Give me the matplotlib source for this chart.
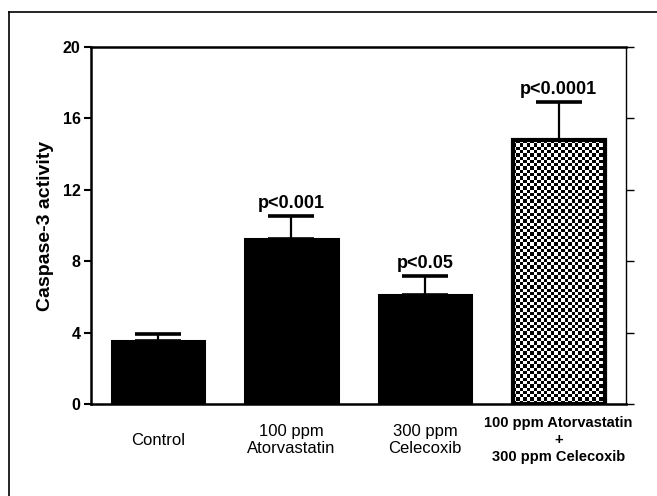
import numpy as np
import matplotlib
matplotlib.use("Agg")
import matplotlib.pyplot as plt
from matplotlib.lines import Line2D

plt.rcParams['font.family'] = ['Liberation Sans', 'DejaVu Sans']

categories = ["Control", "100 ppm\nAtorvastatin", "300 ppm\nCelecoxib",
              "100 ppm Atorvastatin\n+\n300 ppm Celecoxib"]
means = [3.55, 9.25, 6.12, 14.78]
errors = [0.35, 1.30, 1.06, 2.14]
pvals = ["", "p<0.001", "p<0.05", "p<0.0001"]
yticks = [0, 4, 8, 12, 16, 20]

fig = plt.figure(figsize=(6.57, 4.96), dpi=100)
ax = fig.add_axes([91/657, 1-404/496, (625.5-91)/657, (404-47)/496])

x = np.arange(len(categories))
width = 0.69
colors = ['black', 'black', 'black', 'white']
bars = ax.bar(x, means, width=width, color=colors, edgecolor='black', linewidth=2.2, zorder=2)

# checkerboard fill for the combination bar
b = bars[3]
x0, w, h = b.get_x(), b.get_width(), b.get_height()
nx = 27
ny = int(round(h / 0.185))
ii, jj = np.indices((ny, nx))
checker = ((ii + jj) % 2).astype(float)
im = ax.imshow(checker, cmap='gray', extent=(x0, x0 + w, 0, h), aspect='auto',
               interpolation='nearest', zorder=2.5, origin='lower')
im.set_clip_path(b)
ax.bar([x[3]], [means[3]], width=width, facecolor='none', edgecolor='black', linewidth=3.0, zorder=3)

ax.errorbar(x, means, yerr=[np.zeros(len(means)), errors], fmt='none', ecolor='black',
            elinewidth=1.6, capsize=16.5, capthick=2.6, zorder=1)

for xi, m, e, p in zip(x, means, errors, pvals):
    if p:
        ax.annotate(p, (xi, m + e), xytext=(0, 5.5), textcoords='offset points',
                    ha='center', va='baseline', fontsize=13, fontweight='bold')

ax.set_xlim(-0.5, 3.5)
ax.set_ylim(0, 20)
ax.set_yticks(yticks)
ax.set_yticklabels([str(t) for t in yticks], fontsize=11.5, fontweight='bold')
ax.tick_params(axis='y', which='both', direction='out', length=5, width=1.5, pad=2.5,
               right=True, labelright=False)
for t in ax.yaxis.get_major_ticks():
    t.tick2line.set_markeredgewidth(1.0)
    t.tick2line.set_markersize(6)

ax.set_xticks(x)
ax.set_xticklabels(categories)
ax.tick_params(axis='x', length=0, pad=26)
for i, lab in enumerate(ax.get_xticklabels()):
    lab.set_verticalalignment('center')
    if i == 3:
        lab.set_fontsize(10.5)
        lab.set_fontweight('bold')
        lab.set_linespacing(1.25)
    else:
        lab.set_fontsize(12)
        lab.set_linespacing(1.15)

ax.set_ylabel("Caspase-3 activity", fontsize=14, fontweight='bold', labelpad=6)

for s in ['left', 'bottom', 'top']:
    ax.spines[s].set_linewidth(1.8)
ax.spines['right'].set_linewidth(1.0)

fig.add_artist(Line2D([9/657, 1], [1-12/496, 1-12/496], color='black', lw=1.2,
                      transform=fig.transFigure))
fig.add_artist(Line2D([9/657, 9/657], [0, 1-12/496], color='black', lw=1.2,
                      transform=fig.transFigure))

fig.savefig("out.png", dpi=100)
